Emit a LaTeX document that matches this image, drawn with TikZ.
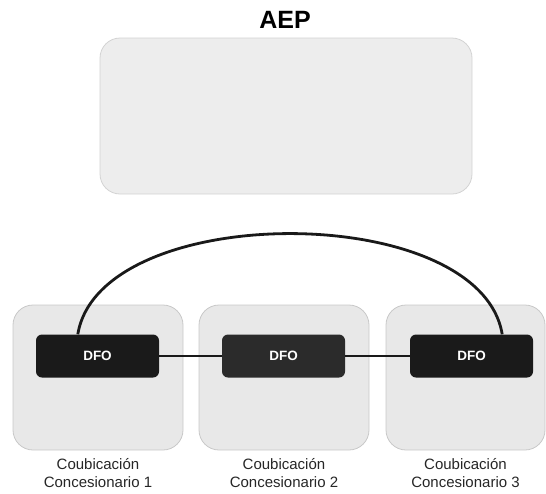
\documentclass[tikz,border=0pt]{standalone}
\usepackage{fontspec}
\setmainfont{Liberation Sans}
\definecolor{boxgray}{HTML}{E8E8E8}
\definecolor{edgegray}{HTML}{C8C8C8}
\definecolor{dfoblack}{HTML}{1A1A1A}
\definecolor{dfogray}{HTML}{2B2B2B}
\begin{document}
\begin{tikzpicture}[
    x=1pt, y=-1pt,
    site/.style={rectangle, rounded corners=20pt, draw=edgegray, fill=boxgray, line width=0.8pt, minimum height=145pt},
    dfo/.style={rectangle, rounded corners=6pt, fill=dfoblack, minimum width=123pt, minimum height=43pt, text=white, font=\fontsize{13.5}{15}\selectfont\bfseries},
    caption/.style={align=center, inner sep=0pt, anchor=north, text=black!85, font=\fontsize{15}{18}\selectfont},
    link/.style={line width=2.8pt, black!90}
]
\useasboundingbox (0,0) rectangle (546,493);

\node[font=\fontsize{25}{28}\selectfont\bfseries] (title) at (285,20) {AEP};
\node[site, minimum width=372pt, minimum height=156pt, fill=boxgray!80, draw=edgegray!80] (aep) at (286,116) {};

\node[site, minimum width=170pt] (co1) at (98,377.5) {};
\node[site, minimum width=170pt] (co2) at (284,377.5) {};
\node[site, minimum width=159pt] (co3) at (465.5,377.5) {};

\node[dfo] (dfo1) at (97.5,356) {DFO};
\node[dfo, fill=dfogray] (dfo2) at (283.5,356) {DFO};
\node[dfo] (dfo3) at (471.5,356) {DFO};

\draw[link] (dfo1) -- (dfo2);
\draw[link] (dfo2) -- (dfo3);
\draw[link] ([xshift=42pt]dfo1.north west) .. controls (100,200) and (480,200) .. ([xshift=-31pt]dfo3.north east);

\node[caption] (cap1) at ([yshift=-8pt]co1.south) {Coubicación\\Concesionario 1};
\node[caption] (cap2) at ([yshift=-8pt]co2.south) {Coubicación\\Concesionario 2};
\node[caption] (cap3) at ([yshift=-8pt]co3.south) {Coubicación\\Concesionario 3};
\end{tikzpicture}
\end{document}
